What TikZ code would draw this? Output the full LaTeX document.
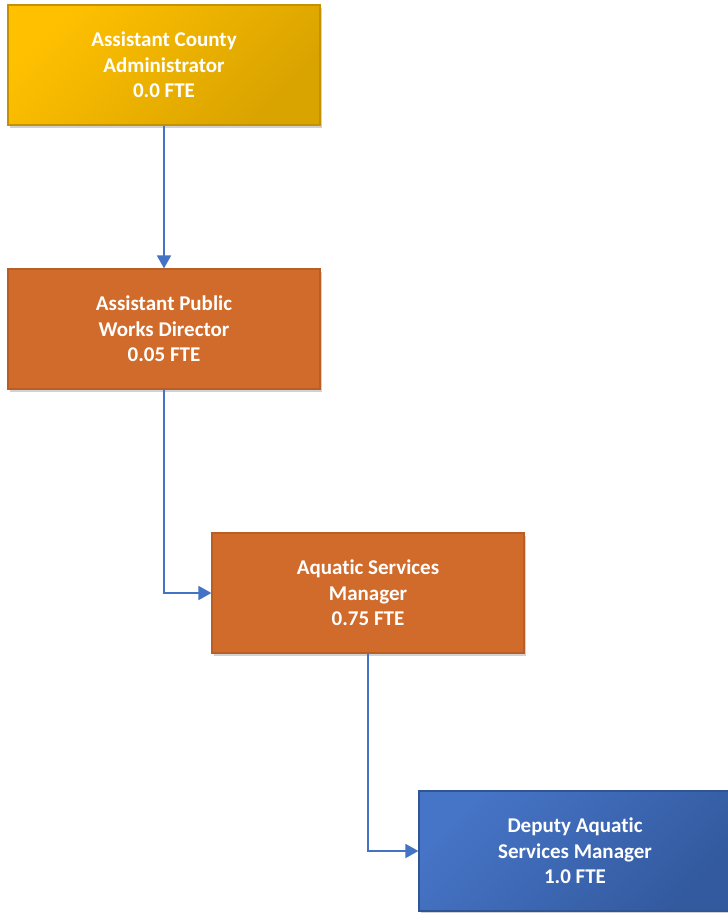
\documentclass[tikz,border=0pt]{standalone}
\usepackage{fontspec}
\setmainfont{Carlito}[Ligatures={NoCommon}]
\usetikzlibrary{arrows.meta,shadows}
\definecolor{goldA}{HTML}{FFC000}
\definecolor{goldB}{HTML}{D9A300}
\definecolor{goldLine}{HTML}{C29200}
\definecolor{rust}{HTML}{D06B2B}
\definecolor{rustLine}{HTML}{B95E24}
\definecolor{blueA}{HTML}{4674C6}
\definecolor{blueB}{HTML}{335A9F}
\definecolor{blueLine}{HTML}{2F5597}
\definecolor{link}{HTML}{4472C4}
\tikzset{
  post/.style={draw, line width=1.2pt, minimum width=312pt, minimum height=120pt,
    inner sep=0pt, align=center, text=white,
    font=\fontsize{21}{25.5}\selectfont\bfseries,
    drop shadow={shadow xshift=2pt, shadow yshift=-3pt, opacity=0.18, fill=black}},
  gold/.style={post, draw=goldLine, left color=goldA, right color=goldB, shading angle=45},
  rustbox/.style={post, draw=rustLine, fill=rust},
  bluebox/.style={post, draw=blueLine, left color=blueA, right color=blueB, shading angle=45},
  link/.style={draw=link, line width=1.8pt, -{Triangle[length=13pt, width=14pt]}}
}
\begin{document}
\begin{tikzpicture}[x=1pt, y=-1pt]
  \useasboundingbox (0,0) rectangle (728,913);
  \node[gold]    (aca) at (164,65)  {Assistant County\\Administrator\\0.0 FTE};
  \node[rustbox] (apw) at (164,329) {Assistant Public\\Works Director\\0.05 FTE};
  \node[rustbox] (asm) at (368,593) {Aquatic Services\\Manager\\0.75 FTE};
  \node[bluebox] (dasm) at (575,851) {Deputy Aquatic\\Services Manager\\1.0 FTE};
  \draw[link] (aca.south) -- (apw.north);
  \draw[link] (apw.south) |- (asm.west);
  \draw[link] (asm.south) |- (dasm.west);
\end{tikzpicture}
\end{document}
